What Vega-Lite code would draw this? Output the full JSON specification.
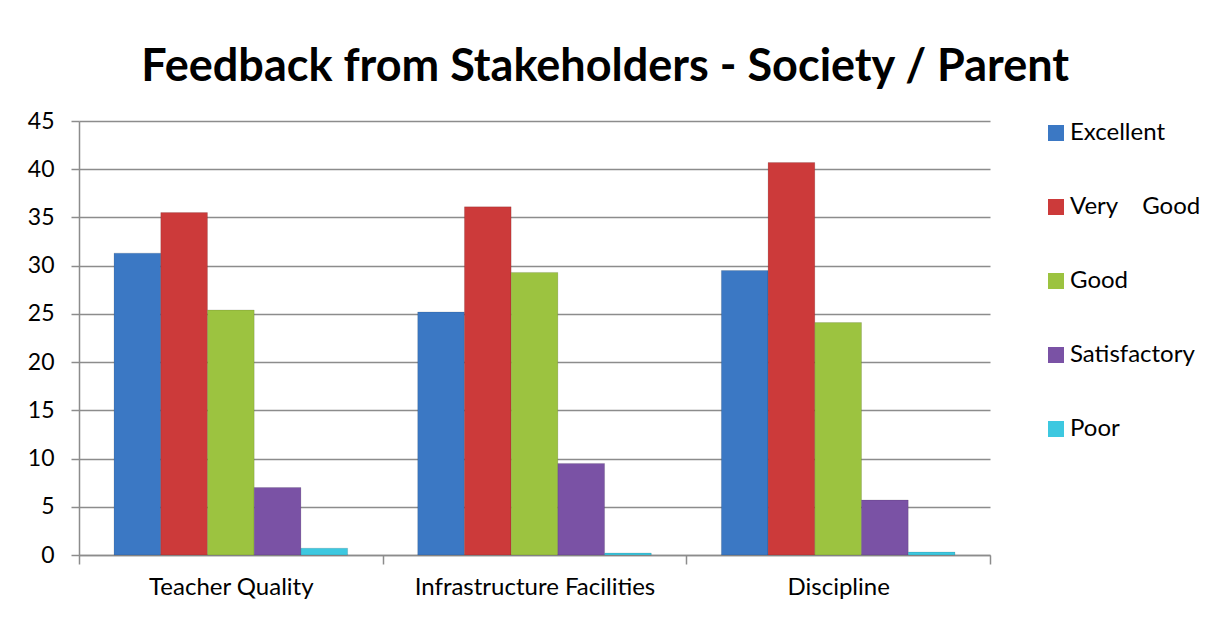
{
  "$schema": "https://vega.github.io/schema/vega-lite/v6.json",
  "autosize": {"type": "none"},
  "width": 911,
  "height": 434,
  "padding": {"left": 79, "top": 121, "right": 216, "bottom": 63},
  "background": "white",
  "title": {
    "text": "Feedback from Stakeholders - Society / Parent",
    "font": "Lato",
    "fontWeight": "bold",
    "fontSize": 45,
    "color": "#000000",
    "anchor": "middle",
    "frame": "bounds",
    "offset": 20,
    "dx": -9
  },
  "data": {
    "values": [
      {"category": "Teacher Quality", "rating": "Excellent", "value": 31.3},
      {"category": "Teacher Quality", "rating": "Very Good", "value": 35.5},
      {"category": "Teacher Quality", "rating": "Good", "value": 25.4},
      {"category": "Teacher Quality", "rating": "Satisfactory", "value": 7.0},
      {"category": "Teacher Quality", "rating": "Poor", "value": 0.7},
      {"category": "Infrastructure Facilities", "rating": "Excellent", "value": 25.2},
      {"category": "Infrastructure Facilities", "rating": "Very Good", "value": 36.1},
      {"category": "Infrastructure Facilities", "rating": "Good", "value": 29.3},
      {"category": "Infrastructure Facilities", "rating": "Satisfactory", "value": 9.5},
      {"category": "Infrastructure Facilities", "rating": "Poor", "value": 0.2},
      {"category": "Discipline", "rating": "Excellent", "value": 29.5},
      {"category": "Discipline", "rating": "Very Good", "value": 40.7},
      {"category": "Discipline", "rating": "Good", "value": 24.1},
      {"category": "Discipline", "rating": "Satisfactory", "value": 5.7},
      {"category": "Discipline", "rating": "Poor", "value": 0.3}
    ]
  },
  "mark": {"type": "bar", "stroke": "#000000", "strokeOpacity": 0.12, "strokeWidth": 1},
  "encoding": {
    "x": {
      "field": "category",
      "type": "nominal",
      "sort": ["Teacher Quality", "Infrastructure Facilities", "Discipline"],
      "scale": {"paddingInner": 0, "paddingOuter": 0},
      "axis": {
        "title": null,
        "labelAngle": 0,
        "labelFont": "Lato",
        "labelFontSize": 24,
        "labelColor": "#000000",
        "labelPadding": 11,
        "labelLimit": 400,
        "tickBand": "extent",
        "tickSize": 9,
        "tickColor": "#8c8c8c",
        "tickWidth": 1.5,
        "domainColor": "#8c8c8c",
        "domainWidth": 1.5,
        "grid": false
      }
    },
    "xOffset": {
      "field": "rating",
      "type": "nominal",
      "sort": ["Excellent", "Very Good", "Good", "Satisfactory", "Poor"],
      "scale": {"paddingInner": 0, "paddingOuter": 0.75}
    },
    "y": {
      "field": "value",
      "type": "quantitative",
      "scale": {"domain": [0, 45], "nice": false},
      "axis": {
        "title": null,
        "values": [0, 5, 10, 15, 20, 25, 30, 35, 40, 45],
        "labelFont": "Lato",
        "labelFontSize": 23,
        "labelColor": "#000000",
        "labelPadding": 17,
        "tickSize": 8,
        "tickColor": "#8c8c8c",
        "tickWidth": 1.5,
        "domainColor": "#8c8c8c",
        "domainWidth": 1.5,
        "grid": true,
        "gridColor": "#8c8c8c",
        "gridWidth": 1.5
      }
    },
    "color": {
      "field": "rating",
      "type": "nominal",
      "sort": ["Excellent", "Very Good", "Good", "Satisfactory", "Poor"],
      "scale": {
        "domain": ["Excellent", "Very Good", "Good", "Satisfactory", "Poor"],
        "range": ["#3b78c4", "#cc3a3a", "#9cc340", "#7a52a5", "#3dc8e0"]
      },
      "legend": {
        "title": null,
        "orient": "right",
        "offset": 54,
        "padding": 0,
        "symbolType": "square",
        "symbolSize": 256,
        "symbolStrokeWidth": 0,
        "labelFont": "Lato",
        "labelFontSize": 24,
        "labelColor": "#000000",
        "labelOffset": 2,
        "labelLimit": 200,
        "rowPadding": 50,
        "labelExpr": "datum.label == 'Very Good' ? 'Very\u00a0\u00a0\u00a0 Good' : datum.label"
      }
    }
  },
  "config": {
    "view": {"stroke": null}
  }
}
